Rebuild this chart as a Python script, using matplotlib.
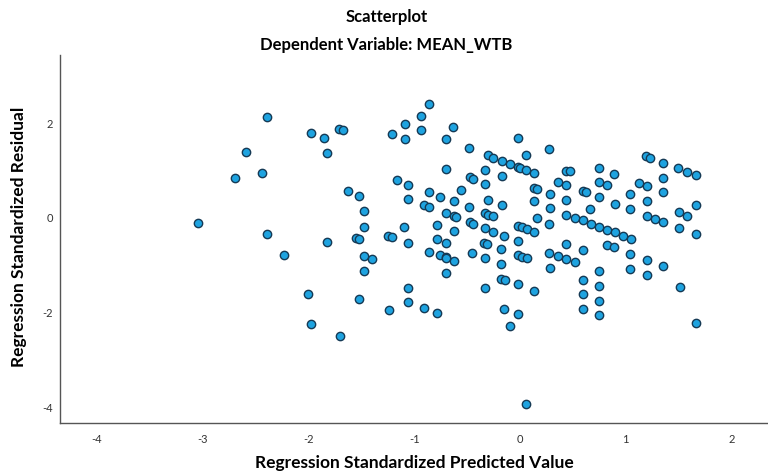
import matplotlib
matplotlib.use("Agg")
import matplotlib.pyplot as plt

plt.rcParams.update({
    "font.family": ["Lato", "DejaVu Sans"],
    "axes.spines.top": False,
    "axes.spines.right": False,
    "axes.unicode_minus": False,
})

# standardized predicted value (x) and standardized residual (y)
pred = [
    -2.388, -1.978, -1.853, -1.824, -1.712, -1.674, -2.589, -2.435, -2.692, -1.627,
    -3.045, -2.388, -1.824, -2.235, -2.003, -1.978, -1.706,
    -0.861, -0.939, -1.086, -0.939, -1.214, -1.086, -0.636, -0.704, -0.485, -0.704,
    -0.476, -0.444, -1.164, -1.058, -1.518, -0.861, -0.758, -0.557, -0.626, -1.058,
    -0.908, -0.861, -1.471, -0.704, -0.626, -0.601, -0.485,
    -1.471, -1.549, -1.518, -1.252, -1.214, -1.096, -1.058, -0.789, -0.626, -0.476,
    -0.444, -0.789, -0.704, -0.861, -0.758, -0.704, -0.695, -0.626, -0.451, -1.471,
    -1.399, -1.471, -0.704, -1.058, -1.518, -1.058, -1.237, -0.908, -0.782,
    -0.022, 0.275, 0.056, -0.298, -0.251, -0.172, -0.094, -0.022, 0.000, 0.056,
    0.131, -0.329, -0.172, 0.438, 0.469, 0.360, 0.438, -0.329, 0.131, 0.162,
    0.282, 0.594, 0.626, -0.298, 0.131, 0.438, -0.172, 0.282, 0.657, -0.329,
    -0.298, -0.251, 0.160, 0.438, 0.516, 0.594,
    0.275, 0.673, -0.329, -0.251, -0.147, -0.022, 0.016, 0.063, 0.131, -0.022,
    -0.338, -0.313, -0.181, -0.329, -0.181, -0.022, 0.016, 0.063, 0.275, 0.282,
    0.363, 0.438, 0.516, 0.438, 0.592, -0.181, -0.141, -0.022, -0.329, 0.131,
    0.592, 0.592, 0.592, -0.147, -0.022, -0.094, 0.055,
    1.190, 1.227, 1.352, 1.496, 1.580, 1.659, 0.742, 0.892, 0.742, 0.823,
    1.127, 1.199, 1.352, 0.742, 1.042, 1.352, 0.901, 1.199, 1.042, 1.659,
    1.502, 1.580, 1.199, 1.277, 1.355, 0.745, 0.826, 0.901, 0.970, 1.049,
    1.499,
    1.659, 0.823, 0.892, 1.042, 1.205, 1.042, 1.352, 1.205, 0.745, 0.745,
    0.745, 1.509, 0.745, 1.659,
]
resid = [
    2.145, 1.804, 1.698, 1.366, 1.889, 1.862, 1.387, 0.947, 0.847, 0.564,
    -0.096, -0.345, -0.515, -0.783, -1.606, -2.251, -2.485,
    2.409, 2.166, 1.983, 1.855, 1.783, 1.664, 1.926, 1.664, 1.472, 1.032,
    0.862, 0.834, 0.798, 0.706, 0.472, 0.549, 0.451, 0.591, 0.351, 0.409,
    0.266, 0.223, 0.138, 0.102, 0.032, 0.011, 0.223,
    -0.181, -0.430, -0.451, -0.379, -0.409, -0.196, -0.536, -0.145, -0.272, -0.089,
    -0.123, -0.451, -0.521, -0.713, -0.783, -0.834, -0.840, -0.904, -0.749, -0.804,
    -0.877, -1.123, -1.153, -1.479, -1.706, -1.777, -1.940, -1.904, -2.011,
    1.698, 1.451, 1.330, 1.330, 1.272, 1.202, 1.145, 1.081, 1.060, 1.011,
    0.953, 1.017, 0.898, 1.004, 0.989, 0.762, 0.691, 0.719, 0.634, 0.613,
    0.506, 0.579, 0.549, 0.387, 0.351, 0.387, 0.281, 0.209, 0.191, 0.102,
    0.068, 0.038, -0.004, 0.060, 0.004, -0.043,
    -0.123, -0.128, -0.217, -0.287, -0.372, -0.160, -0.196, -0.230, -0.302, -0.479,
    -0.536, -0.557, -0.655, -0.840, -0.962, -0.783, -0.819, -0.855, -0.749, -1.053,
    -0.804, -0.868, -0.940, -0.549, -0.681, -1.281, -1.315, -1.400, -1.472, -1.543,
    -1.304, -1.611, -1.932, -1.932, -2.026, -2.287, -3.940,
    1.309, 1.272, 1.166, 1.047, 0.968, 0.904, 1.060, 0.940, 0.762, 0.691,
    0.740, 0.670, 0.847, 0.436, 0.506, 0.543, 0.302, 0.366, 0.187, 0.266,
    0.123, 0.032, 0.047, -0.017, -0.085, -0.187, -0.245, -0.298, -0.379, -0.443,
    -0.209,
    -0.345, -0.570, -0.621, -0.762, -0.889, -1.068, -1.011, -1.196, -1.123, -1.443,
    -1.755, -1.457, -2.060, -2.217,
]
xticks = [-4, -3, -2, -1, 0, 1, 2]
yticks = [-4, -2, 0, 2]

fig = plt.figure(figsize=(7.68, 4.72), dpi=100)
ax = fig.add_axes([60 / 768, 1 - 423 / 472, 708 / 768, 368 / 472])
ax.scatter(pred, resid, s=36, c="#1ea3e0", edgecolors="#153a55", linewidths=1.0, zorder=3)

ax.set_xlim(-4.348, 2.344)
ax.set_ylim(-4.334, 3.446)
ax.set_xticks(xticks)
ax.set_yticks(yticks)
ax.tick_params(length=0, labelsize=8, colors="#333333")
ax.tick_params(axis="y", pad=5)
ax.tick_params(axis="x", pad=8)
for sp in ("left", "bottom"):
    ax.spines[sp].set_color("#555555")
    ax.spines[sp].set_linewidth(1.0)

ax.set_xlabel("Regression Standardized Predicted Value", fontsize=12.5, fontweight="bold")
ax.set_ylabel("Regression Standardized Residual", fontsize=12.5, fontweight="bold")
ax.xaxis.set_label_coords((414 - 60) / 708, (423 - 463) / 368)
ax.yaxis.set_label_coords((19 - 60) / 708, (423 - 237) / 368)
ax.xaxis.label.set_va("center")
ax.yaxis.label.set_va("center")
fig.text(0.503, 1 - 17 / 472, "Scatterplot", ha="center", va="center", fontsize=12, fontweight="bold")
fig.text(0.503, 1 - 45 / 472, "Dependent Variable: MEAN_WTB", ha="center", va="center",
         fontsize=12, fontweight="bold")

fig.savefig("out.png", dpi=100)
